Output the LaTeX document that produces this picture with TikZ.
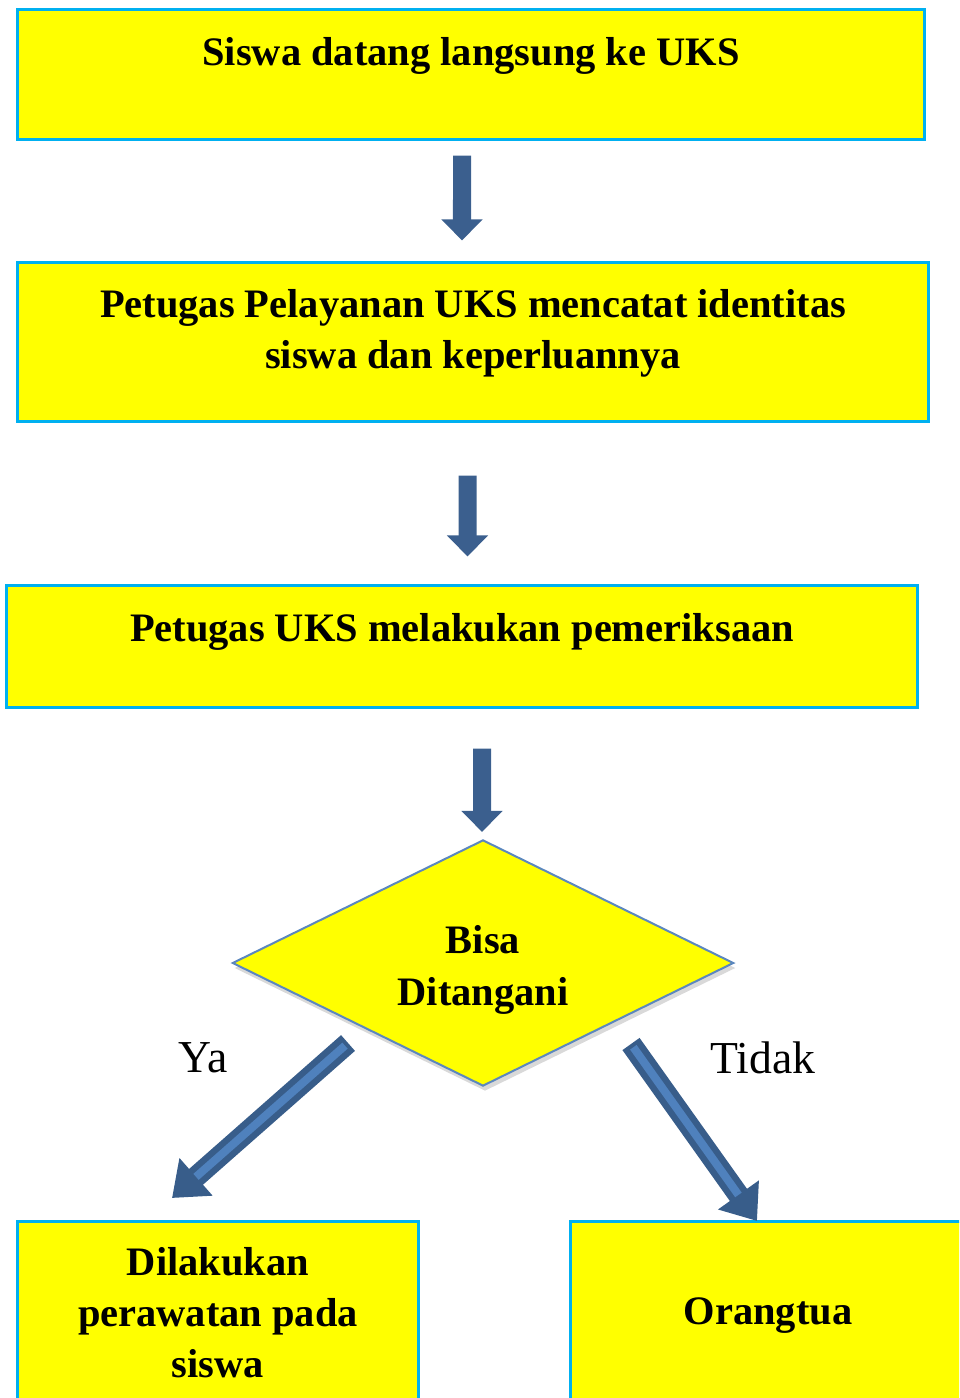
\documentclass[tikz,border=0pt]{standalone}
\usepackage{fontspec}
\setmainfont{Liberation Serif}
\usepackage{tikz}
\usetikzlibrary{shapes,arrows.meta,positioning,shadows}
\definecolor{kuning}{HTML}{FFFF00}
\definecolor{tepikotak}{HTML}{00B0F0}
\definecolor{panah}{HTML}{3B5F8E}
\definecolor{panahisi}{HTML}{4F81BD}
\definecolor{panahtepi}{HTML}{385D8A}
\definecolor{tepiwajik}{HTML}{5B87BE}

\begin{document}
\begin{tikzpicture}[x=0.01cm,y=-0.01cm]
\path[use as bounding box,clip] (0,0) rectangle (959,1398);

\tikzset{>=Triangle}
\def\lebar{9.1cm}
\tikzstyle{block} = [
	draw=tepikotak, fill=kuning, rectangle, line width=0.03cm,
	inner sep=0pt, minimum width=\lebar ];
\tikzstyle{teks} = [font=\bfseries\fontsize{11.5}{14.6}\selectfont,
	align=center, inner sep=0pt];
\tikzstyle{wajik} = [diamond, draw=tepiwajik, fill=kuning, line width=0.02cm,
	inner sep=0pt, minimum width=5.01cm, minimum height=2.46cm,
	drop shadow={shadow xshift=0.02cm, shadow yshift=-0.05cm, opacity=0.3}];
\tikzstyle{turun} = [draw=panah, line width=0.18cm,
	-{Triangle[width=0.4cm,length=0.21cm]}];
\tikzstyle{serong} = [draw=panahtepi, line width=0.21cm,
	-{Triangle[width=0.48cm,length=0.32cm]}];
\tikzstyle{serongisi} = [draw=panahisi, line width=0.08cm,
	shorten <=0.04cm, shorten >=0.32cm];
\tikzstyle{plain} = [font=\fontsize{13}{15}\selectfont, inner sep=0pt];

% kotak
\node[block, minimum width=9.06cm, minimum height=1.29cm] (b1) at (471,74.5) {};
\node[block, minimum height=1.58cm] (b2) at (473,342) {};
\node[block, minimum height=1.21cm] (b3) at (462,646.5) {};
\node[wajik] (d) at (483,963) {};
\node[block, minimum width=4cm, minimum height=2cm] (b4) at (218,1322) {};
\node[block, minimum width=3.94cm, minimum height=2cm] (b5) at (768,1322) {};

\node[teks, below=0.28cm of b1.north] (t1) {Siswa datang langsung ke UKS};
\node[teks, below=0.27cm of b2.north] (t2) {Petugas Pelayanan UKS mencatat identitas\\siswa dan keperluannya};
\node[teks, below=0.28cm of b3.north] (t3) {Petugas UKS melakukan pemeriksaan};
\node[teks, yshift=-0.07cm] (t6) at (d.center) {Bisa\\Ditangani};
\node[teks, below=0.26cm of b4.north] (t4) {Dilakukan\\perawatan pada\\siswa};
\node[teks, below=0.77cm of b5.north] (t5) {Orangtua};

% panah
\draw[turun, shorten <=0.15cm, shorten >=0.21cm] ([xshift=-0.09cm]b1.south) -- ([xshift=-0.11cm]b2.north);
\draw[turun, shorten <=0.53cm, shorten >=0.28cm] ([xshift=-0.055cm]b2.south) -- ([xshift=0.055cm]b3.north);
\draw[turun, shorten <=0.4cm, shorten >=0.07cm] ([xshift=0.2cm]b3.south) -- ([xshift=-0.01cm]d.north);

\coordinate (ya0) at (348,1043);
\coordinate (ya1) at (172,1198);
\coordinate (td0) at (631,1044);
\coordinate (td1) at (757,1221);
\draw[serong] (ya0) -- (ya1);
\draw[serongisi] (ya0) -- (ya1);
\draw[serong] (td0) -- (td1);
\draw[serongisi] (td0) -- (td1);

\node[plain] (ya) at (203,1058) {Ya};
\node[plain] (tidak) at (763,1058) {Tidak};
\end{tikzpicture}
\end{document}
